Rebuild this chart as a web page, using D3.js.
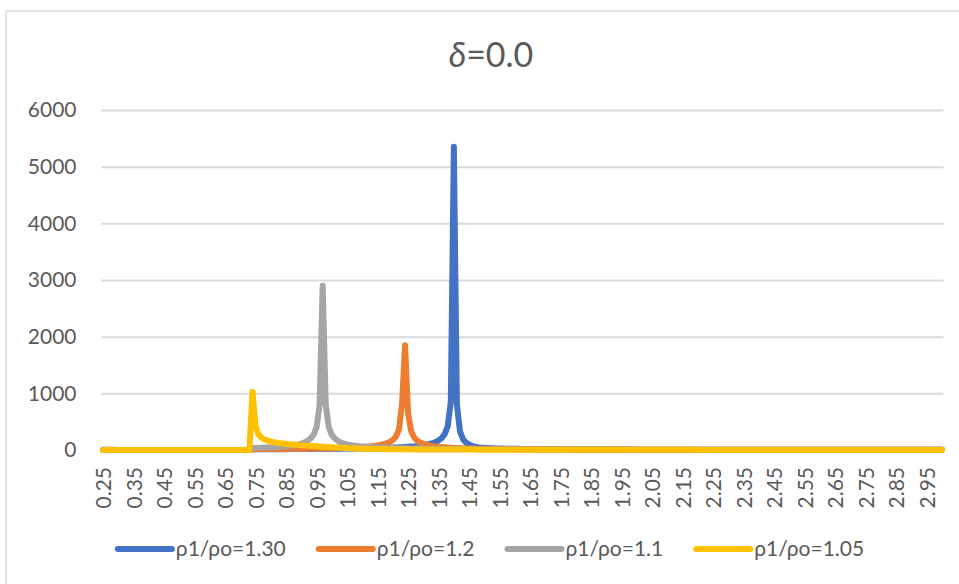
<!DOCTYPE html>
<html><head><meta charset="utf-8">
<script src="https://cdn.jsdelivr.net/npm/d3@7"></script>
<style>
body{margin:0;background:#fff}
svg{display:block}
text{font-family:Lato,"Open Sans",sans-serif;fill:#595959}
</style>
</head><body>
<svg id="chart" width="959" height="584"></svg>
<script>
// x categories: 0.25 .. 3.00 (step 0.01)
const categories = d3.range(25, 301).map(d => (d / 100).toFixed(2));
const xTickLabels = ["0.25","0.35","0.45","0.55","0.65","0.75","0.85","0.95","1.05","1.15","1.25","1.35","1.45","1.55","1.65","1.75","1.85","1.95","2.05","2.15","2.25","2.35","2.45","2.55","2.65","2.75","2.85","2.95"];
const yTicks = [0, 1000, 2000, 3000, 4000, 5000, 6000];
const title = "0.0";
const seriesNames = ["ρ1/ρo=1.30", "ρ1/ρo=1.2", "ρ1/ρo=1.1", "ρ1/ρo=1.05"];
const seriesColors = ["#4472C4", "#ED7D31", "#A5A5A5", "#FFC000"];

const rho130 = [
0,0,0,0,0,0,0,0,0,0,
0,0,0,0,0,0,0,0,0,0,
0,0,0,0,0,0,0,0,0,0,
0,0,0,0,0,0,0,0,0,0,
0,0,0,0,0,0,0,0,0,12,
12,12,13,13,13,14,14,14,15,15,
15,16,16,16,17,17,18,18,19,19,
20,20,21,21,22,22,23,23,24,25,
26,27,27,28,29,30,31,32,33,35,
36,37,38,40,41,43,45,47,50,53,
56,60,64,70,76,84,93,105,120,140,
170,210,280,420,850,5350,800,330,190,130,
95,72,58,48,42,38,35,32,30,28,
26,25,24,23,22,21,20,19,18,17,
16,16,15,15,14,14,13,13,12,12,
12,11,11,11,10,10,10,10,9,9,
9,9,8,8,8,8,8,7,7,7,
7,7,7,7,6,6,6,6,6,6,
6,6,5,5,5,5,5,5,5,5,
5,5,5,4,4,4,4,4,4,4,
4,4,4,4,4,4,4,4,4,4,
4,4,4,4,4,4,3,3,3,3,
3,3,3,3,3,3,3,3,3,3,
3,3,3,3,3,3,3,3,3,3,
3,3,3,3,3,3,3,3,3,3,
3,3,3,3,3,3,3,3,3,3,
3,3,3,3,3,3,3,3,3,3,
3,3,3,3,3,3];

const rho120 = [
0,0,0,0,0,0,0,0,0,0,
0,0,0,0,0,0,0,0,0,0,
0,0,0,0,0,0,0,0,0,0,
0,0,0,0,0,0,0,0,0,0,
0,0,0,0,0,0,0,0,0,15,
15,16,16,16,17,17,18,18,19,19,
20,20,21,21,22,23,23,24,25,26,
27,28,29,30,31,32,33,35,36,38,
40,42,44,47,50,53,57,61,66,72,
80,90,102,118,140,175,235,360,800,1850,
650,330,220,165,130,108,92,80,70,62,
56,51,47,43,40,37,35,33,31,29,
28,26,25,24,23,22,21,20,19,19,
18,17,17,16,16,15,15,14,14,14,
13,13,12,12,12,11,11,11,11,10,
10,10,10,9,9,9,9,9,8,8,
8,8,8,8,7,7,7,7,7,7,
7,6,6,6,6,6,6,6,6,6,
6,5,5,5,5,5,5,5,5,5,
5,5,5,5,5,5,5,4,4,4,
4,4,4,4,4,4,4,4,4,4,
4,4,4,4,4,4,4,4,4,4,
4,4,4,4,3,3,3,3,3,3,
3,3,3,3,3,3,3,3,3,3,
3,3,3,3,3,3,3,3,3,3,
3,3,3,3,3,3,3,3,3,3,
3,3,3,3,3,3,3,3,3,3,
3,3,3,3,3,3];

const rho110 = [
10,9,7,5,3,1,0,0,0,0,
0,0,0,0,0,0,0,0,0,0,
0,0,0,0,0,0,0,0,0,0,
0,0,0,0,0,0,0,0,0,0,
0,0,0,0,0,0,0,0,0,35,
37,38,40,42,44,47,50,53,57,62,
67,73,80,89,100,114,133,160,200,267,
400,800,2900,800,400,267,200,160,133,114,
100,89,80,73,67,62,57,53,50,47,
44,42,40,38,36,35,33,32,31,30,
29,28,27,26,25,24,23,23,22,21,
21,20,20,19,19,18,18,17,17,17,
16,16,16,15,15,15,14,14,14,14,
13,13,13,13,12,12,12,12,12,11,
11,11,11,11,10,10,10,10,10,10,
10,9,9,9,9,9,9,9,8,8,
8,8,8,8,8,8,8,7,7,7,
7,7,7,7,7,7,7,6,6,6,
6,6,6,6,6,6,6,6,6,6,
6,6,6,6,6,5,5,5,5,5,
5,5,5,5,5,5,5,5,5,5,
5,5,5,5,5,5,5,5,5,5,
5,5,5,5,4,4,4,4,4,4,
4,4,4,4,4,4,4,4,4,4,
4,4,4,4,4,4,4,4,4,4,
4,4,4,4,4,4,4,4,4,4,
4,4,4,4,4,4,4,4,4,4,
4,4,4,4,4,4];

const rho105 = [
0,0,0,0,0,0,0,0,0,0,
0,0,0,0,0,0,0,0,0,0,
0,0,0,0,0,0,0,0,0,0,
0,0,0,0,0,0,0,0,0,0,
0,0,0,0,0,0,0,0,0,1030,
420,270,215,185,165,150,138,128,120,113,
107,101,96,91,87,83,79,75,72,69,
66,62,58,55,52,48,45,42,40,37,
34,31,29,27,25,23,22,21,20,19,
18,17,16,15,15,14,14,13,13,12,
12,11,11,11,10,10,10,9,9,9,
9,8,8,8,8,8,7,7,7,7,
7,7,6,6,6,6,6,6,6,5,
5,5,5,5,5,5,5,5,5,4,
4,4,4,4,4,4,4,4,4,4,
4,4,4,4,4,3,3,3,3,3,
3,3,3,3,3,3,3,3,3,3,
3,3,3,3,3,3,3,3,3,3,
3,3,3,3,3,3,3,3,3,3,
3,3,3,3,3,2,2,2,2,2,
2,2,2,2,2,2,2,2,2,2,
2,2,2,2,2,2,2,2,2,2,
2,2,2,2,2,2,2,2,2,2,
2,2,2,2,2,2,2,2,2,2,
2,2,2,2,2,2,2,2,2,2,
2,2,2,2,2,2,2,2,2,2,
2,2,2,2,2,2,2,2,2,2,
2,2,2,2,2,2];

const seriesValues = [rho130, rho120, rho110, rho105];

const svg = d3.select("#chart");
const W = 959, H = 584;
const plot = {left: 101.5, right: 943.5, top: 110, bottom: 450};

// chart area border
svg.append("path")
  .attr("d", `M6,${H+10}V11H${W+10}`)
  .attr("fill", "none").attr("stroke", "#D9D9D9").attr("stroke-width", 1.5);

const x = d3.scalePoint().domain(categories).range([plot.left, plot.right]).padding(0.5);
const y = d3.scaleLinear().domain([0, 6000]).range([plot.bottom, plot.top]);

// title
const t = svg.append("text").attr("x", 491).attr("y", 67).attr("text-anchor", "middle")
  .style("font-size", "34px");
t.append("tspan").style("font-style", "italic").text("δ");
t.append("tspan").text("=" + title);

// y axis + gridlines
const yAxis = svg.append("g").attr("transform", `translate(${plot.left},0)`)
  .call(d3.axisLeft(y).tickValues(yTicks).tickFormat(d3.format("d"))
    .tickSize(-(plot.right - plot.left)).tickPadding(25));
yAxis.select(".domain").remove();
yAxis.selectAll(".tick line").attr("stroke", "#D9D9D9").attr("stroke-width", 2);
yAxis.selectAll(".tick text").style("font-size", "21px").attr("fill", "#595959");

// x axis
const xAxis = svg.append("g").attr("transform", `translate(0,${plot.bottom})`)
  .call(d3.axisBottom(x).tickValues(xTickLabels).tickSize(0));
xAxis.select(".domain").attr("stroke", "#D9D9D9").attr("stroke-width", 2);
xAxis.selectAll(".tick text")
  .attr("transform", "rotate(-90)")
  .attr("text-anchor", "end")
  .attr("x", -17).attr("y", 0).attr("dy", "0.36em")
  .style("font-size", "21px").attr("fill", "#595959");

// series
const line = d3.line().x((d, i) => x(categories[i])).y(d => y(d));
seriesValues.forEach((vals, k) => {
  svg.append("path").datum(vals)
    .attr("d", line)
    .attr("fill", "none")
    .attr("stroke", seriesColors[k])
    .attr("stroke-width", 6)
    .attr("stroke-linejoin", "round")
    .attr("stroke-linecap", "round");
});

// legend
const legend = svg.append("g");
const legY = 549, swatch = 54, gap = 33;
let cursor = 0;
const items = seriesNames.map((name, k) => {
  const g = legend.append("g");
  g.append("line").attr("x1", 0).attr("x2", swatch).attr("y1", legY).attr("y2", legY)
    .attr("stroke", seriesColors[k]).attr("stroke-width", 6).attr("stroke-linecap", "round");
  const tx = g.append("text").attr("x", swatch + 4).attr("y", legY).attr("dy", "0.35em")
    .style("font-size", "21px").text(name);
  const w = swatch + 4 + tx.node().getComputedTextLength();
  g.attr("transform", `translate(${cursor},0)`);
  cursor += w + gap;
  return w;
});
const total = cursor - gap;
legend.attr("transform", `translate(${491 - total / 2},0)`);
</script>
</body></html>
